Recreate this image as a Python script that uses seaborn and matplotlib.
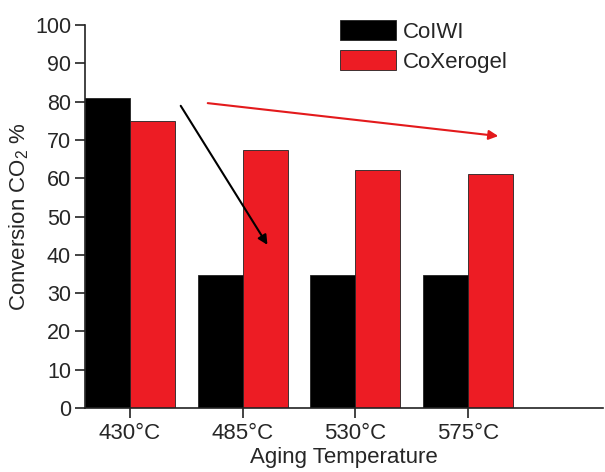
import matplotlib
matplotlib.use("Agg")
import matplotlib.pyplot as plt
import seaborn as sns
import pandas as pd

temps = ["430°C", "485°C", "530°C", "575°C"]
coiwi = [81.0, 34.7, 34.7, 34.7]
coxerogel = [75.0, 67.4, 62.1, 61.1]
series_names = ["CoIWI", "CoXerogel"]
colors = ["#000000", "#ed1c24"]

df = pd.DataFrame({
    "temp": temps * 2,
    "conv": coiwi + coxerogel,
    "sample": [series_names[0]] * 4 + [series_names[1]] * 4,
})

sns.set_theme(style="white")
plt.rcParams["font.family"] = ["Liberation Sans", "DejaVu Sans"]
plt.rcParams["mathtext.fontset"] = "custom"
plt.rcParams["mathtext.rm"] = "Liberation Sans"

fig = plt.figure(figsize=(6.05, 4.72), dpi=100)
ax = fig.add_axes([85/605, 1-408/472, 1-85/605-2/605, (408-25)/472])

sns.barplot(data=df, x="temp", y="conv", hue="sample", palette=colors,
            saturation=1, width=0.8, edgecolor="#222222", linewidth=0.6,
            ax=ax, legend=True)

ax.set_xlim(-0.4, 4.2)
ax.set_ylim(0, 100)
ax.set_yticks(range(0, 101, 10))
ax.set_xlabel("Aging Temperature", fontsize=16, labelpad=2)
ax.set_ylabel("Conversion CO$_2$ %", fontsize=16, labelpad=3)
ax.tick_params(axis="both", labelsize=16, direction="out", length=7, width=1.2,
               color="#222222", left=True, bottom=True, pad=3)
ax.tick_params(axis="x", pad=4)
ax.tick_params(axis="y", labelsize=15.5)
for s in ["top", "right"]:
    ax.spines[s].set_visible(False)
for s in ["left", "bottom"]:
    ax.spines[s].set_color("#222222")
    ax.spines[s].set_linewidth(1.2)

ax.legend(loc="upper left", bbox_to_anchor=(340/605, 1-20/472),
          bbox_transform=fig.transFigure, frameon=False, fontsize=16,
          handlelength=2.5, handleheight=1.0, labelspacing=0.35,
          handletextpad=0.35, borderpad=0, borderaxespad=0)

ax.annotate("", xy=(1.22, 42.6), xytext=(0.45, 78.9),
            arrowprops=dict(arrowstyle="-|>", color="black", lw=1.5,
                            mutation_scale=14, shrinkA=0, shrinkB=0))
ax.annotate("", xy=(3.27, 71.0), xytext=(0.69, 79.6),
            arrowprops=dict(arrowstyle="-|>", color="#e31a1c", lw=1.5,
                            mutation_scale=14, shrinkA=0, shrinkB=0))

fig.savefig("out.png", dpi=100)
